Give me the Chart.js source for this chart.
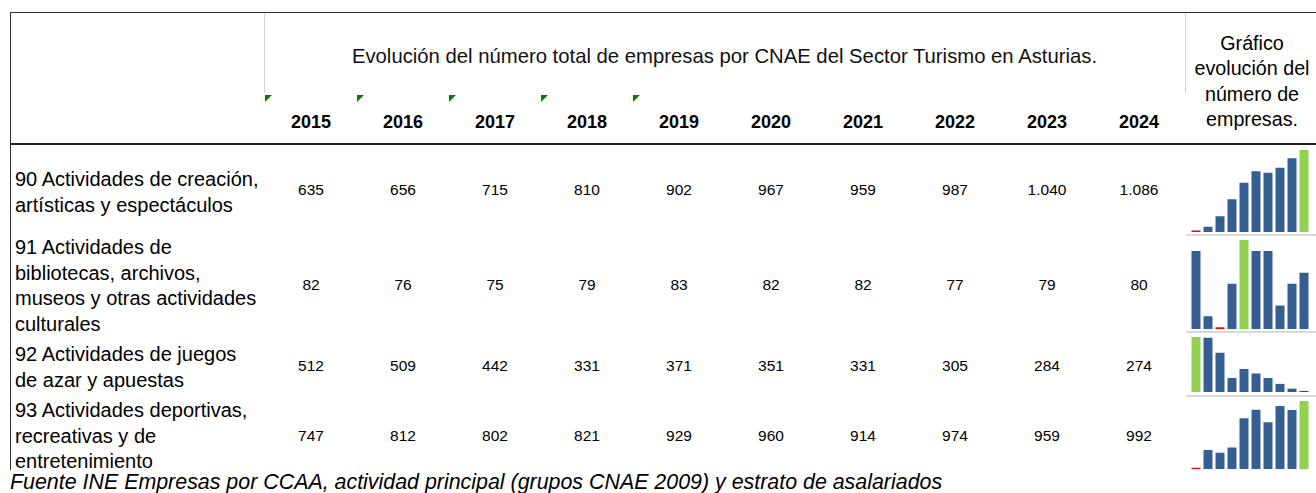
<!DOCTYPE html>
<html lang="es">
<head>
  <meta charset="UTF-8" />
  <title>Evolución del número total de empresas por CNAE - Sector Turismo Asturias</title>
  <script src="https://cdn.jsdelivr.net/npm/chart.js"></script>
  <style>
    body {
      margin: 0;
      background: #fff;
      font-family: Arial, "Liberation Sans", sans-serif;
      color: #000;
    }
    #sheet {
      position: relative;
      width: 1316px;
      height: 493px;
      overflow: hidden;
    }
    .abs { position: absolute; white-space: nowrap; }
    .line { position: absolute; }
    .title { font-size: 20.3px; top: 45px; left: 264px; width: 921px; text-align: center; color: #111; }
    .year { font-size: 18px; font-weight: bold; top: 112px; width: 80px; margin-left: -40px; text-align: center; }
    .val { font-size: 15.5px; width: 80px; margin-left: -40px; text-align: center; line-height: 18px; }
    .label { font-size: 20px; left: 15px; line-height: 25.7px; }
    .side { font-size: 19.7px; left: 1188px; width: 128px; text-align: center; top: 31px; line-height: 25.3px; }
    .foot { font-size: 21.4px; font-style: italic; left: 10px; top: 470px; }
    .tri {
      position: absolute; width: 0; height: 0;
      border-top: 7px solid #008000; border-right: 7px solid transparent;
    }
    canvas.spark { position: absolute; }
  </style>
</head>
<body>
  <div id="sheet"></div>

  <script>
    const years = ['2015', '2016', '2017', '2018', '2019', '2020', '2021', '2022', '2023', '2024'];
    const categories = [
      ['90 Actividades de creación,', 'artísticas y espectáculos'],
      ['91 Actividades de', 'bibliotecas, archivos,', 'museos y otras actividades', 'culturales'],
      ['92 Actividades de juegos', 'de azar y apuestas'],
      ['93 Actividades deportivas,', 'recreativas y de', 'entretenimiento']
    ];
    const cnae90 = [635, 656, 715, 810, 902, 967, 959, 987, 1040, 1086];
    const cnae91 = [82, 76, 75, 79, 83, 82, 82, 77, 79, 80];
    const cnae92 = [512, 509, 442, 331, 371, 351, 331, 305, 284, 274];
    const cnae93 = [747, 812, 802, 821, 929, 960, 914, 974, 959, 992];
    const series = [cnae90, cnae91, cnae92, cnae93];

    const titleText = 'Evolución del número total de empresas por CNAE del Sector Turismo en Asturias.';
    const sideText = ['Gráfico', 'evolución del', 'número de', 'empresas.'];
    const sourceText = 'Fuente INE Empresas por CCAA, actividad principal (grupos CNAE 2009) y estrato de asalariados';

    // layout of the sheet
    const colX = years.map((y, i) => 311 + 92 * i);
    const labelTop = [167, 235, 342, 398];
    const rowMid = [190, 285, 366, 436];
    const sparkBox = [
      { top: 150, height: 82 },
      { top: 240, height: 89 },
      { top: 337, height: 55 },
      { top: 401, height: 68 }
    ];

    const sheet = document.getElementById('sheet');

    function add(cls, text, style) {
      const d = document.createElement('div');
      d.className = cls;
      if (text !== null) d.textContent = text;
      Object.assign(d.style, style || {});
      sheet.appendChild(d);
      return d;
    }

    // borders
    add('line', null, { left: '10px', top: '12px', width: '1306px', height: '1px', background: '#333' });
    add('line', null, { left: '10px', top: '12px', width: '1px', height: '458px', background: '#333' });
    add('line', null, { left: '10px', top: '143px', width: '1306px', height: '2px', background: '#222' });
    add('line', null, { left: '264px', top: '13px', width: '1px', height: '80px', background: '#d4d4d4' });
    add('line', null, { left: '1185px', top: '13px', width: '1px', height: '80px', background: '#d4d4d4' });
    [234, 331, 395].forEach(y => {
      add('line', null, { left: '1186px', top: y + 'px', width: '130px', height: '2px', background: '#d9d9d9' });
    });

    // header
    add('abs title', titleText);
    years.forEach((y, i) => add('abs year', y, { left: colX[i] + 'px' }));
    for (let i = 0; i < 5; i++) {
      const t = document.createElement('div');
      t.className = 'tri';
      t.style.left = (265 + 92 * i) + 'px';
      t.style.top = '95px';
      sheet.appendChild(t);
    }
    const side = add('abs side', null);
    side.innerHTML = sideText.join('<br>');

    // rows
    const fmt = v => v.toLocaleString('es-ES', { useGrouping: 'always' }).replace(/\s/g, '.');
    categories.forEach((lines, r) => {
      const lab = add('abs label', null, { top: labelTop[r] + 'px' });
      lab.innerHTML = lines.join('<br>');
      series[r].forEach((v, i) => {
        add('abs val', fmt(v), { left: colX[i] + 'px', top: (rowMid[r] - 9) + 'px' });
      });
    });

    add('abs foot', sourceText);

    // sparklines (Excel style: min red, max green)
    series.forEach((data, r) => {
      const lo = Math.min(...data);
      const hi = Math.max(...data);
      const colors = data.map(v => v === hi ? '#92d050' : (v === lo ? '#ff0000' : '#365f91'));
      const cv = document.createElement('canvas');
      cv.className = 'spark';
      cv.width = 120;
      cv.height = sparkBox[r].height;
      cv.style.left = '1190px';
      cv.style.top = sparkBox[r].top + 'px';
      sheet.appendChild(cv);

      new Chart(cv.getContext('2d'), {
        type: 'bar',
        data: {
          labels: years,
          datasets: [{
            data: data,
            backgroundColor: colors,
            borderWidth: 0,
            barPercentage: 0.75,
            categoryPercentage: 1
          }]
        },
        options: {
          responsive: false,
          animation: false,
          layout: { padding: 0 },
          plugins: {
            legend: { display: false },
            tooltip: { enabled: false }
          },
          scales: {
            x: { display: false },
            y: { display: false, min: lo - (hi - lo) * 0.02, max: hi }
          }
        }
      });
    });
  </script>
</body>
</html>
